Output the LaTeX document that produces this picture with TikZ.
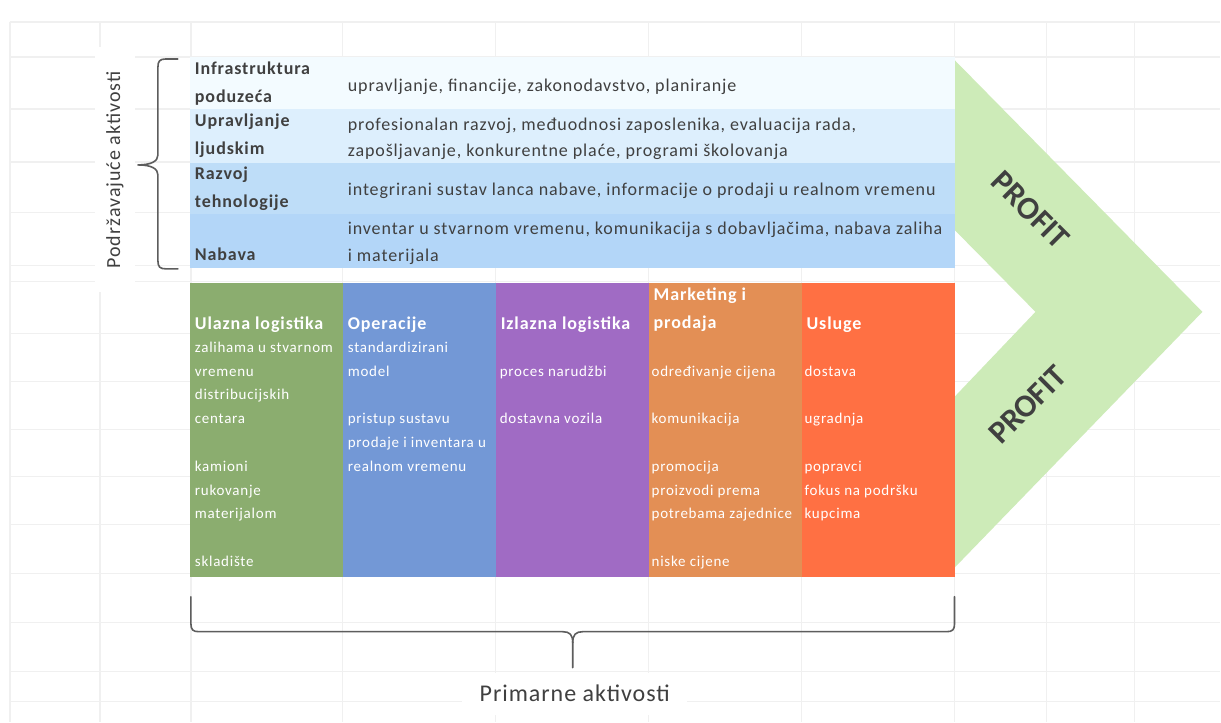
\documentclass[tikz,border=0pt]{standalone}
\usepackage{fontspec}
\setmainfont{Carlito}
\newfontfamily\wideface[LetterSpace=5]{Carlito}
\newfontfamily\labelface[LetterSpace=4]{Carlito}
\usetikzlibrary{positioning}

\definecolor{rowInfra}{HTML}{F3FBFF}
\definecolor{rowLjudi}{HTML}{DDEFFD}
\definecolor{rowRazvoj}{HTML}{BEDDF8}
\definecolor{rowNabava}{HTML}{B3D6F8}
\definecolor{colUlazna}{HTML}{8BAD6F}
\definecolor{colOperacije}{HTML}{7398D6}
\definecolor{colIzlazna}{HTML}{A06BC4}
\definecolor{colMarketing}{HTML}{E38F55}
\definecolor{colUsluge}{HTML}{FF7043}
\definecolor{profitGreen}{HTML}{CDEBB8}
\definecolor{ink}{HTML}{404040}
\definecolor{gridGray}{HTML}{F0F0F0}

\begin{document}
\begin{tikzpicture}
    [
    x=1pt, y=-1pt,
    every node/.style={inner sep=0pt, outer sep=0pt},
    support row/.style={minimum width=765pt, anchor=north west},
    primary col/.style={minimum width=153pt, minimum height=294pt, anchor=north west},
    row head/.style={anchor=west, text=ink, font=\wideface\fontsize{18}{20}\selectfont\bfseries,
        text height=12pt, text depth=3pt},
    row text/.style={anchor=west, text=ink, font=\wideface\fontsize{18}{20}\selectfont,
        text height=12pt, text depth=3pt},
    col head/.style={anchor=west, text=white, font=\wideface\fontsize{18}{20}\selectfont\bfseries,
        text height=12pt, text depth=3pt},
    col item/.style={anchor=west, text=white, font=\wideface\fontsize{15}{17}\selectfont,
        text height=10pt, text depth=3pt},
    profit/.style={text=ink, font=\fontsize{32}{34}\selectfont\bfseries},
    side label/.style={fill=white, text=ink},
    grid line/.style={draw=gridGray, line width=1.2pt},
    brace line/.style={draw=ink!85, line width=1.6pt, line cap=round, line join=round},
    ]

    % page and faint sheet grid
    \fill[white] (0,0) rectangle (1221,722);
    \foreach \gx in {10,100,191,343,496,649,802,955,1047,1135}
        \draw[grid line] (\gx,22) -- (\gx,722);
    \foreach \gy in {22,57,109,162,213,266,282,334,382,430,477,525,574,623,672,702}
        \draw[grid line] (10,\gy) -- (1221,\gy);

    % profit chevron
    \fill[profitGreen] (952,57) -- (1203,312) -- (955,568) -- (955,397)
        -- (1036,312) -- (955,230) -- cycle;
    \node[profit, rotate=-45] (lbl_profit_top) at (1031,210) {PROFIT};
    \node[profit, rotate=45] (lbl_profit_bottom) at (1028,405) {PROFIT};

    % support activities
    \node[support row, fill=rowInfra, minimum height=52pt] (row_infra) at (190,57) {};
    \node[support row, fill=rowLjudi, minimum height=54pt, below=0pt of row_infra] (row_ljudi) {};
    \node[support row, fill=rowRazvoj, minimum height=51pt, below=0pt of row_ljudi] (row_razvoj) {};
    \node[support row, fill=rowNabava, minimum height=54pt, below=0pt of row_razvoj] (row_nabava) {};

    \node[row head] (head_infra_a) at (195,70) {Infrastruktura};
    \node[row head] (head_infra_b) at (195,98) {poduzeća};
    \node[row head] (head_ljudi_a) at (195,122) {Upravljanje};
    \node[row head] (head_ljudi_b) at (195,150) {ljudskim};
    \node[row head] (head_razvoj_a) at (195,175) {Razvoj};
    \node[row head] (head_razvoj_b) at (195,203) {tehnologije};
    \node[row head] (head_nabava) at (195,256) {Nabava};

    \node[row text] (txt_infra) at (348,87) {upravljanje, financije, zakonodavstvo, planiranje};
    \node[row text] (txt_ljudi_a) at (348,126) {profesionalan razvoj, međuodnosi zaposlenika, evaluacija rada,};
    \node[row text] (txt_ljudi_b) at (348,152) {zapošljavanje, konkurentne plaće, programi školovanja};
    \node[row text] (txt_razvoj) at (348,191) {integrirani sustav lanca nabave, informacije o prodaji u realnom vremenu};
    \node[row text] (txt_nabava_a) at (348,230) {inventar u stvarnom vremenu, komunikacija s dobavljačima, nabava zaliha};
    \node[row text] (txt_nabava_b) at (348,257) {i materijala};

    % primary activities
    \node[primary col, fill=colUlazna] (col_ulazna) at (190,283) {};
    \node[primary col, fill=colOperacije, right=0pt of col_ulazna] (col_operacije) {};
    \node[primary col, fill=colIzlazna, right=0pt of col_operacije] (col_izlazna) {};
    \node[primary col, fill=colMarketing, right=0pt of col_izlazna] (col_marketing) {};
    \node[primary col, fill=colUsluge, right=0pt of col_marketing] (col_usluge) {};

    \node[col head] (head_ulazna) at (195,325) {Ulazna logistika};
    \node[col head] (head_operacije) at (348,325) {Operacije};
    \node[col head] (head_izlazna) at (501,325) {Izlazna logistika};
    \node[col head] (head_marketing_a) at (654,296) {Marketing i};
    \node[col head] (head_marketing_b) at (654,324) {prodaja};
    \node[col head] (head_usluge) at (807,325) {Usluge};

    \foreach \i/\txt in {1/zalihama u stvarnom, 2/vremenu, 3/distribucijskih, 4/centara,
                        6/kamioni, 7/rukovanje, 8/materijalom, 10/skladište}
        \node[col item] (item_ulazna_\i) at (195,{349+23.8*(\i-1)}) {\txt};
    \foreach \i/\txt in {1/standardizirani, 2/model, 4/pristup sustavu,
                        5/prodaje i inventara u, 6/realnom vremenu}
        \node[col item] (item_operacije_\i) at (348,{349+23.8*(\i-1)}) {\txt};
    \foreach \i/\txt in {2/proces narudžbi, 4/dostavna vozila}
        \node[col item] (item_izlazna_\i) at (500,{349+23.8*(\i-1)}) {\txt};
    \foreach \i/\txt in {2/određivanje cijena, 4/komunikacija, 6/promocija,
                        7/proizvodi prema, 8/potrebama zajednice, 10/niske cijene}
        \node[col item] (item_marketing_\i) at (652,{349+23.8*(\i-1)}) {\txt};
    \foreach \i/\txt in {2/dostava, 4/ugradnja, 6/popravci,
                        7/fokus na podršku, 8/kupcima}
        \node[col item] (item_usluge_\i) at (805,{349+23.8*(\i-1)}) {\txt};

    % braces
    \draw[brace line] (178,59) -- (166,59) .. controls (160,59) and (158,61) .. (158,67)
        -- (158,155) .. controls (158,161) and (152,165) .. (138,165)
        .. controls (152,165) and (158,169) .. (158,175)
        -- (158,261) .. controls (158,267) and (160,269) .. (166,269) -- (178,269);
    \draw[brace line] (191,597) -- (191,624) .. controls (191,630) and (193,632) .. (199,632)
        -- (563,632) .. controls (570,632) and (573,635) .. (573,643) -- (573,668);
    \draw[brace line] (573,643) .. controls (573,635) and (576,632) .. (583,632)
        -- (947,632) .. controls (953,632) and (955,630) .. (955,624) -- (955,597);

    \node[side label, rotate=90, minimum width=245pt, minimum height=40pt,
        font=\wideface\fontsize{20}{22}\selectfont] (lbl_podrzavajuce)
        at (115,170) {Podržavajuće aktivosti};
    \node[side label, minimum width=225pt, minimum height=42pt,
        font=\labelface\fontsize{24}{26}\selectfont] (lbl_primarne)
        at (575,694) {Primarne aktivosti};
\end{tikzpicture}
\end{document}
